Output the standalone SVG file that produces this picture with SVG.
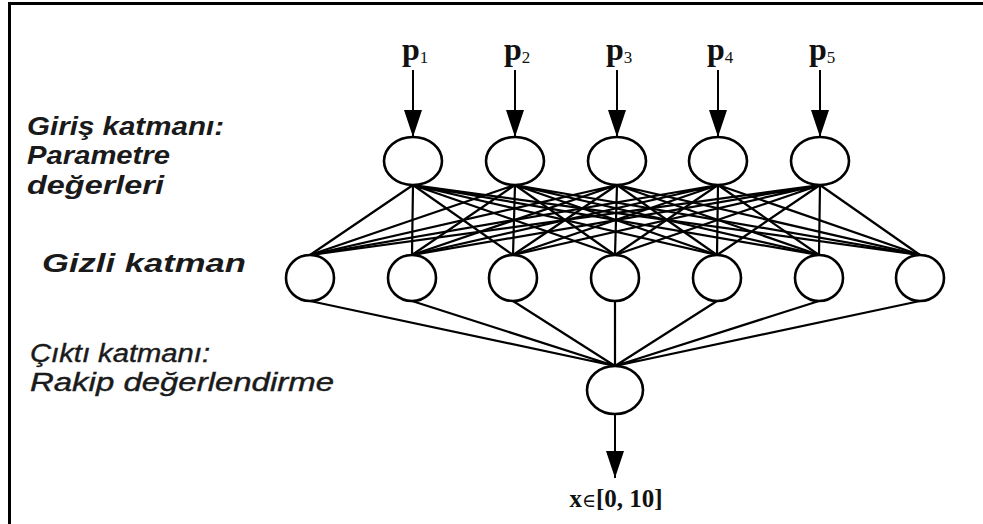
<svg xmlns="http://www.w3.org/2000/svg" width="983" height="524" viewBox="0 0 983 524">
  <style>
    .node { fill: #fff; stroke: #000; stroke-width: 2.6; }
    .edge { stroke: #000; stroke-width: 2.2; fill: none; }
    .arrow { stroke: #000; stroke-width: 2; fill: none; marker-end: url(#head); }
    .lbl { font-family: "Liberation Sans", Arial, sans-serif; font-style: italic; font-weight: bold; font-size: 25px; fill: #1a1a1a; }
    .lbl2 { font-family: "Liberation Sans", Arial, sans-serif; font-style: italic; font-size: 25px; fill: #1a1a1a; stroke: #1a1a1a; stroke-width: 0.4; }
    .p { font-family: "Liberation Serif", "Times New Roman", serif; font-weight: bold; font-size: 32px; fill: #111; }
    .sub { font-size: 17px; font-weight: normal; }
    .out { font-family: "Liberation Serif", "Times New Roman", serif; font-weight: bold; font-size: 25px; fill: #111; }
  </style>
  <defs>
    <marker id="head" markerUnits="userSpaceOnUse" markerWidth="28" markerHeight="20" viewBox="0 0 28 20" refX="27" refY="10" orient="auto">
      <path d="M0 1 L27 10 L0 19 Z" fill="#000"/>
    </marker>
  </defs>

  <!-- frame -->
  <path d="M9.5 524 V3.5 H983" fill="none" stroke="#000" stroke-width="3"/>

  <!-- left labels -->
  <g id="labels">
    <text class="lbl" x="27" y="135" textLength="197" lengthAdjust="spacingAndGlyphs">Giriş katmanı:</text>
    <text class="lbl" x="27" y="164" textLength="143" lengthAdjust="spacingAndGlyphs">Parametre</text>
    <text class="lbl" x="27" y="194" textLength="137" lengthAdjust="spacingAndGlyphs">değerleri</text>
    <text class="lbl" x="42" y="272" textLength="204" lengthAdjust="spacingAndGlyphs">Gizli katman</text>
    <text class="lbl2" x="30" y="362" textLength="180" lengthAdjust="spacingAndGlyphs">Çıktı katmanı:</text>
    <text class="lbl2" x="30" y="391" textLength="304" lengthAdjust="spacingAndGlyphs">Rakip değerlendirme</text>
  </g>

  <!-- connectors -->
  <g id="connectors">
    <!-- input arrows -->
    <line class="arrow" x1="413" y1="70" x2="413" y2="137"/>
    <line class="arrow" x1="515" y1="70" x2="515" y2="137"/>
    <line class="arrow" x1="617" y1="70" x2="617" y2="137"/>
    <line class="arrow" x1="718" y1="70" x2="718" y2="137"/>
    <line class="arrow" x1="820" y1="70" x2="820" y2="137"/>
    <!-- input layer to hidden layer -->
    <g class="edge">
      <path d="M413 185 L310 255 M413 185 L412 255 M413 185 L513 255 M413 185 L615 255 M413 185 L717 255 M413 185 L819 255 M413 185 L920 255"/>
      <path d="M515 185 L310 255 M515 185 L412 255 M515 185 L513 255 M515 185 L615 255 M515 185 L717 255 M515 185 L819 255 M515 185 L920 255"/>
      <path d="M617 185 L310 255 M617 185 L412 255 M617 185 L513 255 M617 185 L615 255 M617 185 L717 255 M617 185 L819 255 M617 185 L920 255"/>
      <path d="M718 185 L310 255 M718 185 L412 255 M718 185 L513 255 M718 185 L615 255 M718 185 L717 255 M718 185 L819 255 M718 185 L920 255"/>
      <path d="M820 185 L310 255 M820 185 L412 255 M820 185 L513 255 M820 185 L615 255 M820 185 L717 255 M820 185 L819 255 M820 185 L920 255"/>
    </g>
    <!-- hidden layer to output -->
    <g class="edge">
      <path d="M310 301 L615 366 M412 301 L615 366 M513 301 L615 366 M615 301 L615 366 M717 301 L615 366 M819 301 L615 366 M920 301 L615 366"/>
    </g>
    <!-- output arrow -->
    <line class="arrow" x1="615" y1="414" x2="615" y2="478"/>
  </g>

  <!-- input labels -->
  <g id="inputs-text">
    <text class="p" x="402" y="60">p<tspan class="sub" dy="3">1</tspan></text>
    <text class="p" x="504" y="60">p<tspan class="sub" dy="3">2</tspan></text>
    <text class="p" x="606" y="60">p<tspan class="sub" dy="3">3</tspan></text>
    <text class="p" x="707" y="60">p<tspan class="sub" dy="3">4</tspan></text>
    <text class="p" x="809" y="60">p<tspan class="sub" dy="3">5</tspan></text>
  </g>

  <!-- input layer -->
  <g id="in1"><ellipse class="node" cx="413" cy="161" rx="29" ry="24"/></g>
  <g id="in2"><ellipse class="node" cx="515" cy="161" rx="29" ry="24"/></g>
  <g id="in3"><ellipse class="node" cx="617" cy="161" rx="29" ry="24"/></g>
  <g id="in4"><ellipse class="node" cx="718" cy="161" rx="29" ry="24"/></g>
  <g id="in5"><ellipse class="node" cx="820" cy="161" rx="29" ry="24"/></g>

  <!-- hidden layer -->
  <g id="h1"><ellipse class="node" cx="310" cy="278" rx="24" ry="23"/></g>
  <g id="h2"><ellipse class="node" cx="412" cy="278" rx="24" ry="23"/></g>
  <g id="h3"><ellipse class="node" cx="513" cy="278" rx="24" ry="23"/></g>
  <g id="h4"><ellipse class="node" cx="615" cy="278" rx="24" ry="23"/></g>
  <g id="h5"><ellipse class="node" cx="717" cy="278" rx="24" ry="23"/></g>
  <g id="h6"><ellipse class="node" cx="819" cy="278" rx="24" ry="23"/></g>
  <g id="h7"><ellipse class="node" cx="920" cy="278" rx="24" ry="23"/></g>

  <!-- output layer -->
  <g id="out"><ellipse class="node" cx="615" cy="390" rx="28" ry="24"/></g>

  <text class="out" x="616" y="507" text-anchor="middle">x<tspan font-family="DejaVu Serif, serif" font-size="19px" font-weight="normal">∈</tspan>[0, 10]</text>
</svg>
